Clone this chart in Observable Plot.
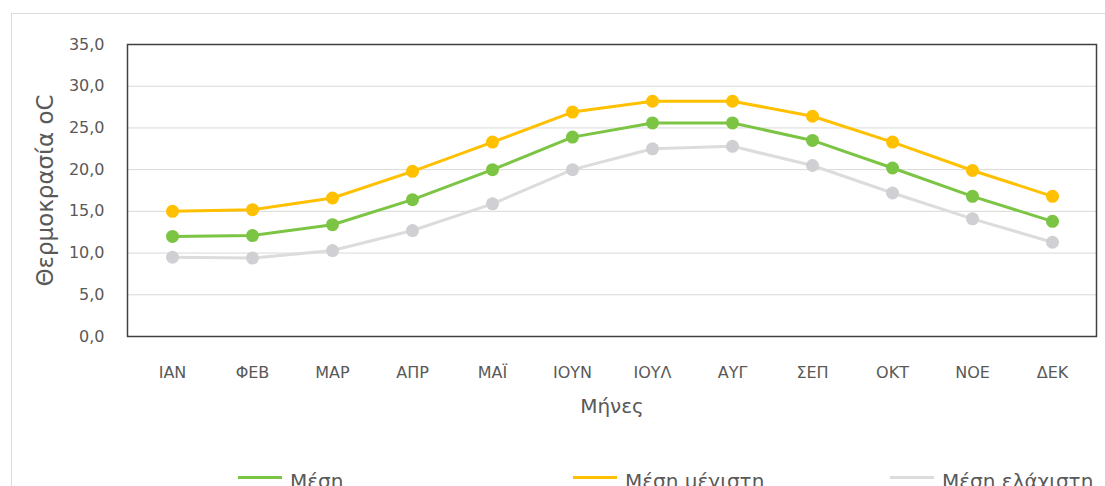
<!DOCTYPE html>
<html><head><meta charset="utf-8">
<script src="https://cdn.jsdelivr.net/npm/d3@7"></script>
<script src="https://cdn.jsdelivr.net/npm/@observablehq/plot@0.6"></script>
<style>
html,body{margin:0;padding:0;background:#fff;overflow:hidden;width:1105px;height:486px;}
#wrap{position:relative;width:1105px;height:486px;overflow:hidden;font-family:"DejaVu Sans",sans-serif;}
#chart{position:absolute;left:0;top:0;}
#border{position:absolute;left:11px;top:13px;width:1200px;height:600px;border:1px solid #dcdcdc;pointer-events:none;}
#legend{position:absolute;top:467px;left:0;width:1105px;height:40px;font-size:20px;color:#595959;}
.item{position:absolute;top:0;display:flex;align-items:center;white-space:nowrap;height:20px;}
.sw{display:inline-block;width:44px;height:3px;margin-right:8px;}
.lt{position:relative;top:4px;}
</style>
</head><body>
<div id="wrap"><div id="chart"></div><div id="legend"></div><div id="border"></div></div>
<script>
const months = ["ΙΑΝ","ΦΕΒ","ΜΑΡ","ΑΠΡ","ΜΑΪ","ΙΟΥΝ","ΙΟΥΛ","ΑΥΓ","ΣΕΠ","ΟΚΤ","ΝΟΕ","ΔΕΚ"];
const meanT = [12.0, 12.1, 13.4, 16.4, 20.0, 23.9, 25.6, 25.6, 23.5, 20.2, 16.8, 13.8];
const maxT  = [15.0, 15.2, 16.6, 19.8, 23.3, 26.9, 28.2, 28.2, 26.4, 23.3, 19.9, 16.8];
const minT  = [9.5, 9.4, 10.3, 12.7, 15.9, 20.0, 22.5, 22.8, 20.5, 17.2, 14.1, 11.3];
const seriesNames = ["Μέση", "Μέση μέγιστη", "Μέση ελάχιστη"];
const lineColors = ["#7cc444", "#ffc000", "#dcdcdc"];
const dotColors  = ["#7cc444", "#ffc000", "#d0d0d4"];
const yTicks = [0, 5, 10, 15, 20, 25, 30, 35];
const xTitle = "Μήνες";
const yTitle = "Θερμοκρασία oC";

const seriesValues = [meanT, maxT, minT];
const tables = seriesValues.map((vals, i) => months.map((m, j) => ({month: m, value: vals[j], series: seriesNames[i]})));
const order = [2, 0, 1];

const marks = [
  Plot.gridY(yTicks, {stroke: "#d9d9d9", strokeOpacity: 1, strokeWidth: 1}),
  Plot.axisY(yTicks, {tickSize: 0, tickPadding: 23, tickFormat: d => d.toFixed(1).replace(".", ","), label: null, fontSize: 16}),
  Plot.axisX({tickSize: 0, tickPadding: 30, label: null, fontSize: 16}),
  Plot.text([xTitle], {frameAnchor: "bottom", dy: 76, fontSize: 20, fill: "#595959"}),
  Plot.text([yTitle], {frameAnchor: "left", textAnchor: "middle", dx: -82, rotate: -90, fontSize: 23, fill: "#595959"}),
];
for (const i of order) {
  marks.push(Plot.line(tables[i], {x: "month", y: "value", stroke: lineColors[i], strokeWidth: 3}));
  marks.push(Plot.dot(tables[i], {x: "month", y: "value", r: 6.5, fill: dotColors[i], stroke: "none"}));
}
marks.push(Plot.frame({stroke: "#404040", strokeWidth: 1.5}));

const chart = Plot.plot({
  width: 1105,
  height: 440,
  marginLeft: 127,
  marginRight: 9,
  marginTop: 44,
  marginBottom: 104,
  style: {fontFamily: "DejaVu Sans, sans-serif", fontSize: "16px", color: "#595959", background: "transparent"},
  x: {type: "point", domain: months, padding: 0.5},
  y: {domain: [0, 35]},
  marks
});
document.getElementById("chart").appendChild(chart);

const legendX = [238, 573, 890];
const legend = document.getElementById("legend");
seriesNames.forEach((name, i) => {
  const it = document.createElement("div");
  it.className = "item";
  it.style.left = legendX[i] + "px";
  const sw = document.createElement("span");
  sw.className = "sw";
  sw.style.background = lineColors[i];
  const tx = document.createElement("span");
  tx.className = "lt";
  tx.textContent = name;
  it.appendChild(sw); it.appendChild(tx);
  legend.appendChild(it);
});
</script>
</body></html>
